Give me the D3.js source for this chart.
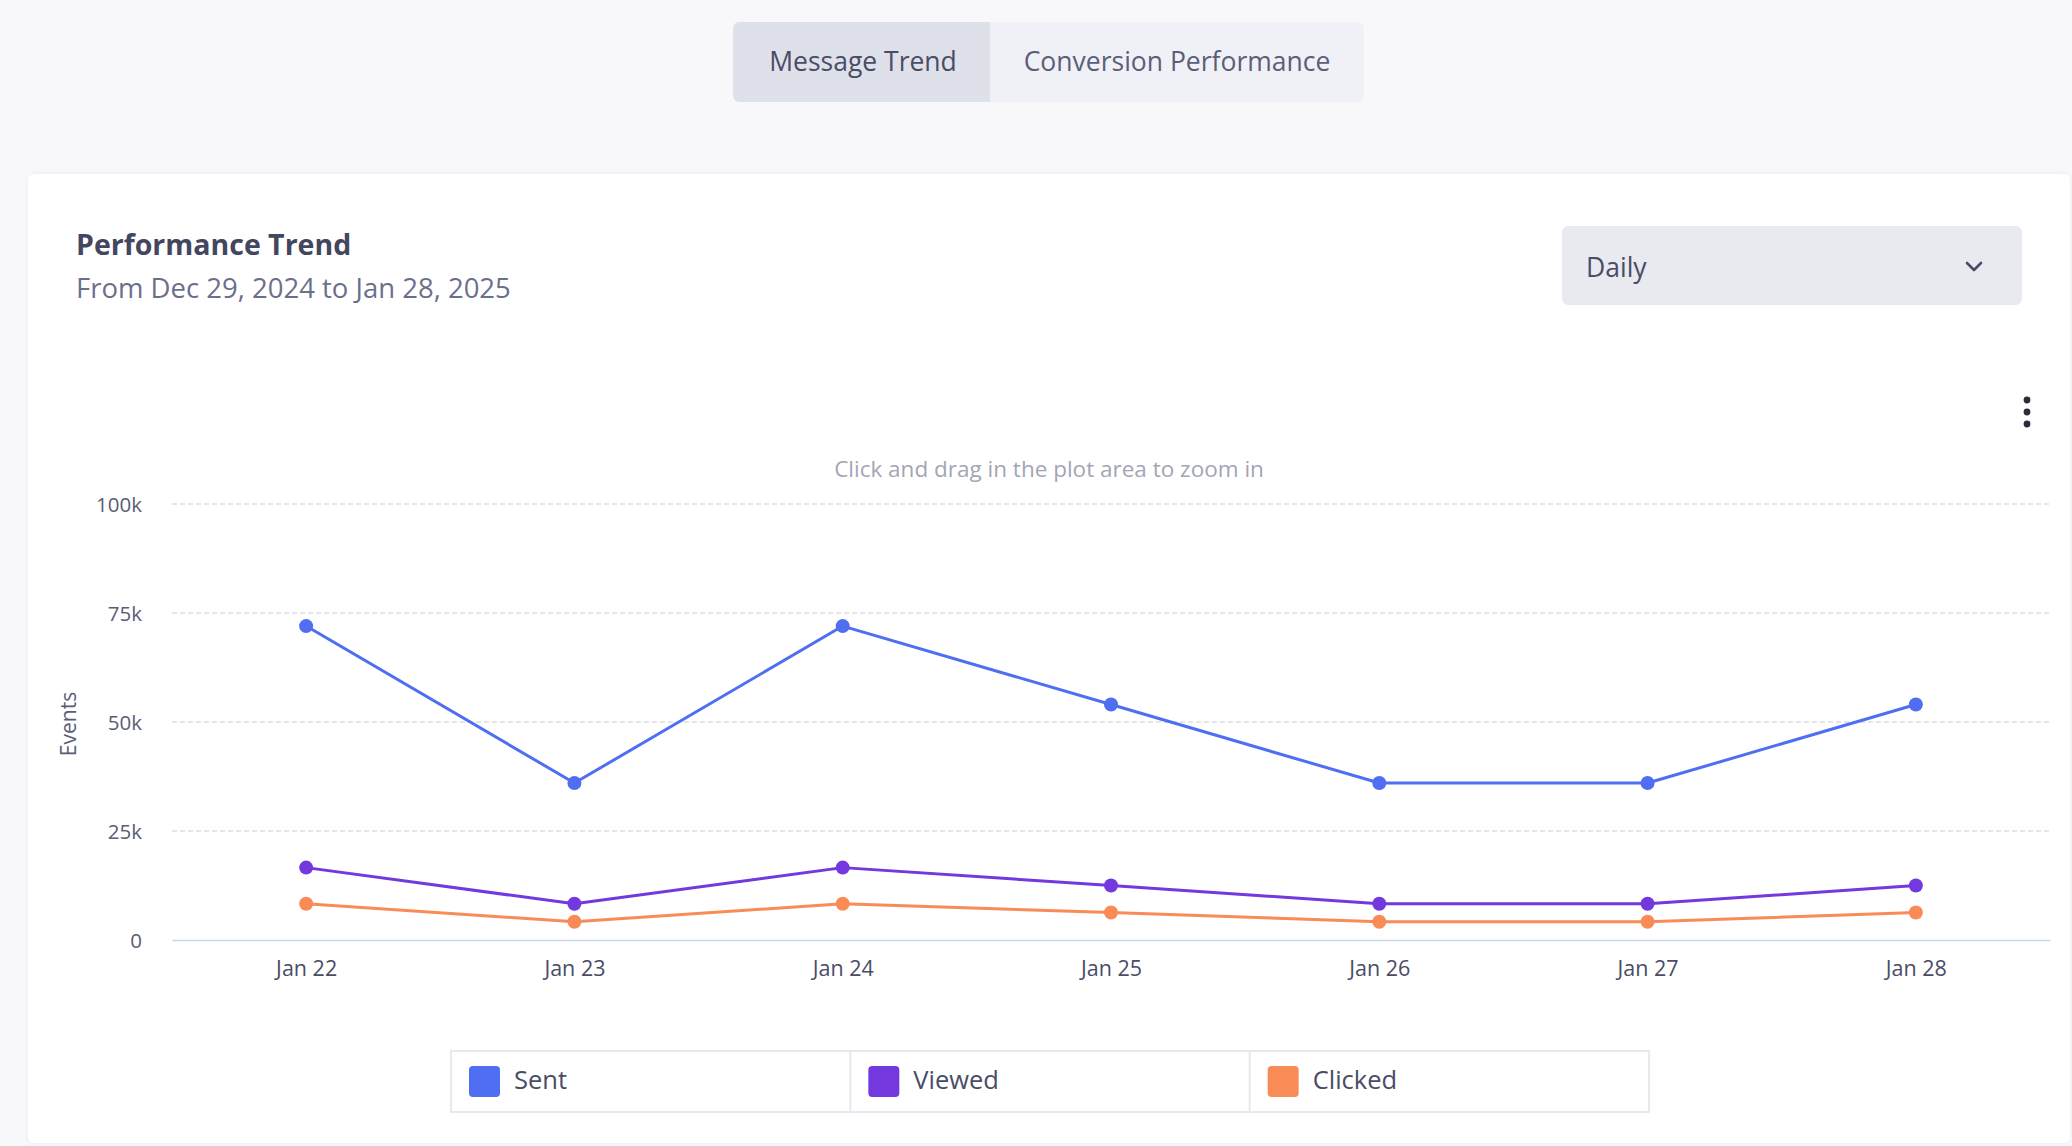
<!DOCTYPE html>
<html>
<head>
<meta charset="utf-8">
<script src="https://cdn.jsdelivr.net/npm/d3@7"></script>
<style>
  html, body { margin: 0; padding: 0; background: #f8f8fa; }
  svg { display: block; }
  text { font-family: "Open Sans", Lato, sans-serif; }
</style>
</head>
<body>
<svg id="chart" width="2072" height="1146"></svg>
<script>
// ---- data ----
const categories = ["Jan 22", "Jan 23", "Jan 24", "Jan 25", "Jan 26", "Jan 27", "Jan 28"];
const sentValues    = [72000, 36000, 72000, 54000, 36000, 36000, 54000];
const viewedValues  = [16600, 8300, 16600, 12500, 8300, 8300, 12500];
const clickedValues = [8300, 4200, 8300, 6300, 4200, 4200, 6300];
const seriesNames = ["Sent", "Viewed", "Clicked"];
const seriesColors = ["#4f6ef2", "#7338de", "#f98b57"];
const yTicks = [0, 25000, 50000, 75000, 100000];
const yTickLabels = ["0", "25k", "50k", "75k", "100k"];
const tabLabels = ["Message Trend", "Conversion Performance"];

const series = [sentValues, viewedValues, clickedValues].map((vals, i) => ({
  name: seriesNames[i], color: seriesColors[i],
  points: vals.map((v, j) => ({ cat: categories[j], value: v }))
}));

const FONT = "\"Open Sans\", Lato, sans-serif";
const svg = d3.select("#chart");

// page background
svg.append("rect").attr("width", 2072).attr("height", 1146).attr("fill", "#f8f8fa");

// ---- tabs ----
const tabs = svg.append("g");
tabs.append("rect").attr("x", 733).attr("y", 22).attr("width", 631).attr("height", 80)
  .attr("rx", 7).attr("fill", "#f0f1f6");
tabs.append("path")
  .attr("d", "M740,22 H990 V102 H740 Q733,102 733,95 V29 Q733,22 740,22 Z")
  .attr("fill", "#dfe1ea");
tabs.append("text").attr("x", 863).attr("y", 71).attr("text-anchor", "middle")
  .attr("font-size", 26.5).attr("fill", "#4a4c66").text(tabLabels[0]);
tabs.append("text").attr("x", 1177).attr("y", 71).attr("text-anchor", "middle")
  .attr("font-size", 26.5).attr("fill", "#5b5e78").text(tabLabels[1]);

// ---- card ----
const defs = svg.append("defs");
const filt = defs.append("filter").attr("id", "shadow").attr("x", "-5%").attr("y", "-5%")
  .attr("width", "110%").attr("height", "110%");
filt.append("feDropShadow").attr("dx", 0).attr("dy", 0).attr("stdDeviation", 2)
  .attr("flood-color", "#000").attr("flood-opacity", 0.06);
svg.append("rect").attr("x", 28).attr("y", 174).attr("width", 2042).attr("height", 969)
  .attr("rx", 6).attr("fill", "#ffffff").attr("filter", "url(#shadow)");

// title & subtitle
svg.append("text").attr("x", 76).attr("y", 255).attr("font-size", 28.5).attr("font-weight", 700)
  .attr("fill", "#43465e").text("Performance Trend");
svg.append("text").attr("x", 76).attr("y", 298).attr("font-size", 27.5)
  .attr("fill", "#6b6f8c").text("From Dec 29, 2024 to Jan 28, 2025");

// dropdown
svg.append("rect").attr("x", 1562).attr("y", 226).attr("width", 460).attr("height", 79)
  .attr("rx", 6).attr("fill", "#e9eaf0");
svg.append("text").attr("x", 1586).attr("y", 277).attr("font-size", 26.5)
  .attr("fill", "#4a4c66").text("Daily");
svg.append("path").attr("d", "M1967,263 L1974,270 L1981,263")
  .attr("fill", "none").attr("stroke", "#4a4c66").attr("stroke-width", 2.6)
  .attr("stroke-linecap", "round").attr("stroke-linejoin", "round");

// kebab menu
[400, 412, 424].forEach(cy => {
  svg.append("circle").attr("cx", 2027).attr("cy", cy).attr("r", 3.4).attr("fill", "#2a2c3a");
});

// hint text
svg.append("text").attr("x", 1049).attr("y", 477).attr("text-anchor", "middle")
  .attr("font-size", 22.5).attr("fill", "#a3a5b5").text("Click and drag in the plot area to zoom in");

// ---- plot ----
const plot = { left: 172, right: 2050, top: 504, bottom: 940 };
const x = d3.scalePoint().domain(categories).range([plot.left, plot.right]).padding(0.5);
const y = d3.scaleLinear().domain([0, 100000]).range([plot.bottom, plot.top]);

// grid
const grid = svg.append("g");
grid.selectAll("line").data(yTicks.filter(t => t > 0)).join("line")
  .attr("x1", plot.left).attr("x2", plot.right)
  .attr("y1", d => y(d)).attr("y2", d => y(d))
  .attr("stroke", "#dedede").attr("stroke-width", 1.3).attr("stroke-dasharray", "5,3");

// y axis
const yAxis = d3.axisLeft(y).tickValues(yTicks)
  .tickFormat((d, i) => yTickLabels[i]).tickSize(0).tickPadding(0);
const gy = svg.append("g").attr("transform", `translate(${plot.left - 30},0)`).call(yAxis);
gy.select(".domain").remove();
gy.selectAll("text").attr("font-size", 20.5).attr("fill", "#5a5d75")
  .attr("font-family", FONT).attr("dy", "0.35em");

// x axis
const xAxis = d3.axisBottom(x).tickSize(0).tickPadding(0);
const gx = svg.append("g").attr("transform", `translate(0,${plot.bottom})`).call(xAxis);
gx.select(".domain").attr("stroke", "#ccd6eb").attr("stroke-width", 1.5);
gx.selectAll("text").attr("font-size", 21.5).attr("fill", "#4a4c66")
  .attr("font-family", FONT).attr("y", 36).attr("dy", 0);

// y label
svg.append("text").attr("transform", `translate(76,${(plot.top + plot.bottom) / 2 + 2}) rotate(-90)`)
  .attr("text-anchor", "middle").attr("font-size", 21).attr("fill", "#5a5d75").text("Events");

// lines
const line = d3.line().x(d => x(d.cat)).y(d => y(d.value));
const sg = svg.append("g");
series.forEach(s => {
  sg.append("path").datum(s.points).attr("d", line).attr("fill", "none")
    .attr("stroke", s.color).attr("stroke-width", 3).attr("stroke-linejoin", "round");
  sg.append("g").selectAll("circle").data(s.points).join("circle")
    .attr("cx", d => x(d.cat)).attr("cy", d => y(d.value)).attr("r", 7).attr("fill", s.color);
});

// ---- legend ----
const legendX = d3.scaleBand().domain(seriesNames).range([451, 1649]);
const lg = svg.append("g");
lg.append("rect").attr("x", 451).attr("y", 1051).attr("width", 1198).attr("height", 61)
  .attr("fill", "#fff").attr("stroke", "#e8e9f0").attr("stroke-width", 2);
seriesNames.forEach((n, i) => {
  const x0 = legendX(n);
  if (i > 0) lg.append("line").attr("x1", x0).attr("x2", x0).attr("y1", 1051).attr("y2", 1112)
    .attr("stroke", "#e8e9f0").attr("stroke-width", 2);
  lg.append("rect").attr("x", x0 + 18).attr("y", 1066).attr("width", 31).attr("height", 31)
    .attr("rx", 4).attr("fill", seriesColors[i]);
  lg.append("text").attr("x", x0 + 63).attr("y", 1089).attr("font-size", 25.5)
    .attr("fill", "#4a4c66").text(n);
});
</script>
</body>
</html>
